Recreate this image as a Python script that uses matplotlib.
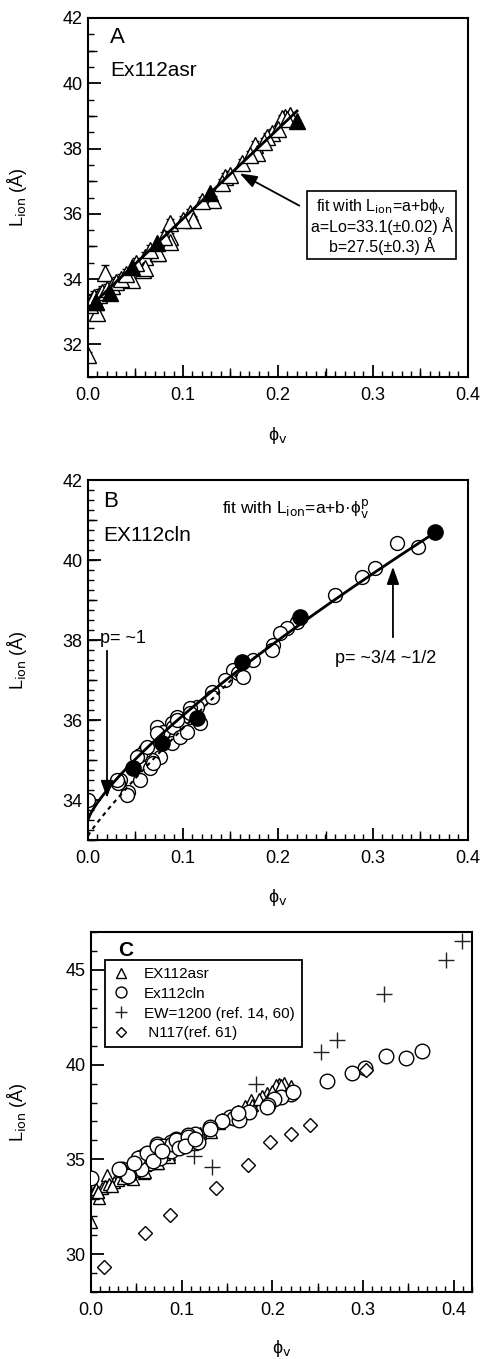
import matplotlib
matplotlib.use('Agg')
import matplotlib.pyplot as plt
import numpy as np
from matplotlib.ticker import MultipleLocator, FormatStrFormatter

plt.rcParams['font.family'] = ['Liberation Sans', 'DejaVu Sans']
plt.rcParams['mathtext.fontset'] = 'dejavusans'

# ---------------- Panel A data (Ex112asr) ----------------
A_open_phi = [0.213, 0.207, 0.204, 0.194, 0.188, 0.176, 0.178, 0.162, 0.144, 0.141,
              0.132, 0.107, 0.111, 0.086, 0.086, 0.073, 0.060, 0.046, 0.058, 0.018,
              0.009, 0.000, 0.060, 0.074, 0.086,
              0.002, 0.004, 0.006, 0.008, 0.012, 0.015, 0.020, 0.025, 0.030, 0.035,
              0.040, 0.050, 0.065, 0.080, 0.100, 0.120, 0.150, 0.170, 0.185, 0.200, 0.210]
A_open_L = [39.03, 38.97, 38.94, 38.48, 38.35, 38.11, 37.86, 37.56, 37.13, 36.94,
            36.42, 36.02, 35.81, 35.72, 35.29, 34.80, 34.68, 33.97, 34.28, 34.19,
            32.96, 31.67, 34.34, 34.80, 35.14,
            33.20, 33.35, 33.45, 33.30, 33.50, 33.60, 33.70, 33.80, 33.90, 34.00,
            34.15, 34.50, 34.90, 35.30, 35.80, 36.40, 37.20, 37.80, 38.20, 38.60, 38.90]
A_open_err = [0.10, 0.10, 0.10, 0.12, 0.12, 0.12, 0.12, 0.12, 0.12, 0.12,
              0.12, 0.12, 0.12, 0.12, 0.12, 0.12, 0.15, 0.15, 0.15, 0.25,
              0.15, 0.10, 0.15, 0.15, 0.15,
              0.15, 0.20, 0.20, 0.20, 0.20, 0.20, 0.15, 0.15, 0.15, 0.15,
              0.15, 0.15, 0.15, 0.15, 0.12, 0.12, 0.12, 0.12, 0.12, 0.10, 0.10]
A_fill_phi = [0.220, 0.128, 0.073, 0.046, 0.023, 0.008]
A_fill_L = [38.85, 36.64, 35.10, 34.37, 33.57, 33.30]
A_fit_a, A_fit_b, A_fit_max = 33.1, 27.5, 0.22

# ---------------- Panel B data (EX112cln) ----------------
B_open_phi = [0.325, 0.347, 0.302, 0.288, 0.260, 0.220, 0.209, 0.202, 0.195, 0.194,
              0.174, 0.153, 0.158, 0.163, 0.144, 0.131, 0.131, 0.115, 0.107, 0.118,
              0.107, 0.094, 0.088, 0.073, 0.079, 0.088, 0.076, 0.067, 0.060, 0.055,
              0.065, 0.055, 0.042, 0.034, 0.032, 0.000, 0.041, 0.031, 0.052, 0.062,
              0.073, 0.089, 0.094, 0.107, 0.068, 0.097, 0.104]
B_open_L = [40.43, 40.33, 39.80, 39.58, 39.13, 38.45, 38.30, 38.18, 37.88, 37.75,
            37.50, 37.25, 37.18, 37.08, 37.00, 36.70, 36.58, 36.33, 36.30, 35.93,
            36.08, 36.08, 35.93, 35.83, 35.70, 35.43, 35.08, 35.00, 35.25, 35.13,
            34.80, 34.50, 34.20, 34.50, 34.43, 34.00, 34.13, 34.50, 35.08, 35.33,
            35.68, 35.83, 36.00, 36.18, 34.93, 35.58, 35.70]
B_fill_phi = [0.365, 0.223, 0.162, 0.115, 0.078, 0.047]
B_fill_L = [40.70, 38.58, 37.45, 36.05, 35.43, 34.80]
# power-law fits  L = a + b * phi**p
B_fit_solid = (33.5, 15.76, 0.78, 0.368)
B_fit_dotted = (33.1, 21.4, 0.90, 0.18)

# ---------------- Panel C extra data ----------------
EW_phi = [0.409, 0.391, 0.323, 0.271, 0.254, 0.182, 0.133, 0.114]
EW_L = [46.55, 45.50, 43.75, 41.30, 40.65, 39.00, 34.60, 35.20]
N117_phi = [0.014, 0.060, 0.087, 0.138, 0.173, 0.197, 0.221, 0.241, 0.303]
N117_L = [29.30, 31.10, 32.05, 33.50, 34.70, 35.90, 36.35, 36.80, 39.70]

PHI = 'ϕ'

W, H = 485, 1359
fig = plt.figure(figsize=(W / 100, H / 100), dpi=100)
axA = fig.add_axes([88 / W, 1 - 377 / H, 380 / W, 359 / H])
axB = fig.add_axes([88 / W, 1 - 840 / H, 380 / W, 360 / H])
axC = fig.add_axes([91 / W, 1 - 1292 / H, 381 / W, 360 / H])


def style(ax, xlim, ylim, ymaj, ymin, ymed, ylab_x, xlab_y):
    ax.set_xlim(*xlim)
    ax.set_ylim(*ylim)
    for s in ax.spines.values():
        s.set_linewidth(1.5)
    ax.xaxis.set_major_locator(MultipleLocator(0.1))
    ax.xaxis.set_minor_locator(MultipleLocator(0.01))
    ax.xaxis.set_major_formatter(FormatStrFormatter('%.1f'))
    ax.yaxis.set_major_locator(MultipleLocator(ymaj))
    ax.yaxis.set_minor_locator(MultipleLocator(ymin))
    ax.yaxis.set_major_formatter(FormatStrFormatter('%d'))
    ax.tick_params(which='major', direction='in', length=9, width=1.3,
                   labelsize=13, top=False, right=False)
    ax.tick_params(axis='x', which='major', pad=7)
    ax.tick_params(axis='y', which='major', pad=4)
    ax.tick_params(which='minor', direction='in', length=4.5, width=1.0,
                   top=False, right=False)
    # medium ticks
    secx = ax.secondary_xaxis('bottom')
    secx.set_xticks(np.arange(0.05, xlim[1], 0.1))
    secx.tick_params(direction='in', length=6.5, width=1.0, labelbottom=False)
    secx.spines['bottom'].set_visible(False)
    if ymed is not None:
        secy = ax.secondary_yaxis('left')
        secy.set_yticks(np.arange(ymed[0], ylim[1], ymed[1]))
        secy.tick_params(direction='in', length=6.5, width=1.0, labelleft=False)
        secy.spines['left'].set_visible(False)
    ax.set_xlabel(PHI + r'$_{\rm v}$', fontsize=13)
    ax.xaxis.set_label_coords(0.5, xlab_y)
    ax.set_ylabel(r'L$_{\rm ion}$ (Å)', fontsize=13)
    ax.yaxis.set_label_coords(ylab_x, 0.5)


style(axA, (0, 0.4), (31, 42), 2, 0.5, (33, 2), -0.155, -0.135)
style(axB, (0, 0.4), (33, 42), 2, 0.25, (33, 1), -0.155, -0.13)
style(axC, (0, 0.42), (28, 47), 5, 1, None, -0.163, -0.128)

arrow_kw = dict(arrowstyle='-|>,head_length=0.7,head_width=0.25',
                color='black', lw=1.3, mutation_scale=15)

# ---------- Panel A ----------
axA.errorbar(A_open_phi, A_open_L, yerr=A_open_err, fmt='^', ms=11, mfc='white',
             mec='black', mew=1.0, ecolor='black', elinewidth=0.8, capsize=3,
             capthick=0.8, zorder=2)
xa = np.linspace(0, A_fit_max, 50)
axA.plot(xa, A_fit_a + A_fit_b * xa, color='black', lw=2.0, zorder=3)
axA.plot(A_fill_phi, A_fill_L, '^', ms=11, color='black', zorder=4)
axA.text(0.058, 0.947, 'A', transform=axA.transAxes, fontsize=16, va='center', ha='left')
axA.text(0.058, 0.855, 'Ex112asr', transform=axA.transAxes, fontsize=15, va='center', ha='left')
axA.annotate('', xy=(0.157, 37.28), xytext=(0.225, 36.21), arrowprops=arrow_kw)
axA.text(0.309, 35.63,
         'fit with L$_{\\rm ion}$=a+b' + PHI + '$_{\\rm v}$\na=Lo=33.1(±0.02) Å\nb=27.5(±0.3) Å',
         ha='center', va='center', multialignment='center', fontsize=11.5, linespacing=1.1,
         bbox=dict(boxstyle='square,pad=0.25', fc='white', ec='black', lw=1.2), zorder=5)

# ---------- Panel B ----------
axB.plot(B_open_phi, B_open_L, 'o', ms=10, mfc='white', mec='black', mew=1.0, zorder=2)
a, b, p, m = B_fit_solid
xs = np.linspace(0, m, 200)
axB.plot(xs, a + b * xs ** p, color='black', lw=2.0, zorder=3)
a, b, p, m = B_fit_dotted
xd = np.linspace(0, m, 200)
axB.plot(xd, a + b * xd ** p, color='black', lw=1.5, ls=(0, (2, 2)), zorder=3)
axB.plot(B_fill_phi, B_fill_L, 'o', ms=11, color='black', zorder=4)
axB.text(0.039, 0.939, 'B', transform=axB.transAxes, fontsize=16, va='center', ha='left')
axB.text(0.039, 0.847, 'EX112cln', transform=axB.transAxes, fontsize=15, va='center', ha='left')
axB.text(0.141, 41.3, 'fit with L$_{\\rm ion}$=a+b·' + PHI + '$_{\\rm v}^{\\rm p}$',
         fontsize=12.5, ha='left', va='center')
axB.text(0.0125, 38.05, 'p= ~1', fontsize=13, ha='left', va='center')
axB.annotate('', xy=(0.02, 33.98), xytext=(0.02, 37.8), arrowprops=arrow_kw)
axB.text(0.313, 37.55, 'p= ~3/4 ~1/2', fontsize=13, ha='center', va='center')
axB.annotate('', xy=(0.321, 39.9), xytext=(0.321, 38.0), arrowprops=arrow_kw)

# ---------- Panel C ----------
C_tri_phi = A_open_phi + A_fill_phi
C_tri_L = A_open_L + A_fill_L
C_circ_phi = B_open_phi + B_fill_phi
C_circ_L = B_open_L + B_fill_L
h1, = axC.plot(C_tri_phi, C_tri_L, '^', ms=9, mfc='white', mec='black', mew=1.0,
               label='EX112asr', zorder=2)
h2, = axC.plot(C_circ_phi, C_circ_L, 'o', ms=10.5, mfc='white', mec='black', mew=1.0,
               label='Ex112cln', zorder=3)
h3, = axC.plot(EW_phi, EW_L, '+', ms=11, color='#222222', mew=1.0,
               label='EW=1200 (ref. 14, 60)', zorder=4, clip_on=False)
h4, = axC.plot(N117_phi, N117_L, 'D', ms=6.7, mfc='white', mec='black', mew=1.0,
               label=' N117(ref. 61)', zorder=4)
axC.text(0.071, 0.95, 'C', transform=axC.transAxes, fontsize=15, fontweight='bold',
         va='center', ha='left')
leg = axC.legend(handles=[h1, h2, h3, h4], loc='upper left', bbox_to_anchor=(0.037, 0.922),
                 borderaxespad=0, fontsize=11, markerscale=0.75, frameon=True,
                 fancybox=False, edgecolor='black', framealpha=1, labelspacing=0.38,
                 handlelength=1.2, handletextpad=0.9, borderpad=0.45)
leg.get_frame().set_linewidth(1.3)

fig.savefig('out.png', dpi=100)
